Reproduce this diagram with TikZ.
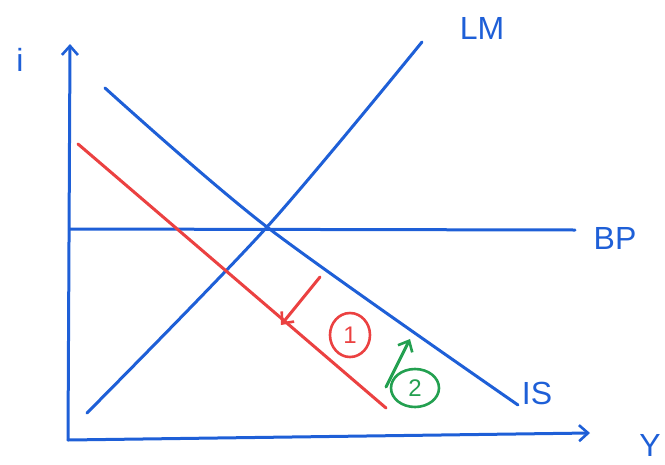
\documentclass[tikz,border=0pt]{standalone}
\usepackage{fontspec}
\setmainfont{Liberation Sans}
\usetikzlibrary{arrows.meta,shapes.geometric}
\definecolor{penblue}{RGB}{30,95,215}
\definecolor{penred}{RGB}{235,65,65}
\definecolor{pengreen}{RGB}{35,160,80}
\tikzset{
  pen/.style={line width=3pt, line cap=round, line join=round},
  curve/.style={pen, penblue},
  lab/.style={text=penblue, font=\fontsize{32}{32}\selectfont, inner sep=0pt},
  tip/.style={-{Straight Barb[length=9pt,width=16pt,line width=2.6pt]}},
  circnum/.style={ellipse, draw, pen, line width=2.6pt, inner sep=1pt, font=\fontsize{24}{24}\selectfont}
}
\begin{document}
\begin{tikzpicture}[x=1pt,y=-1pt]
\useasboundingbox (0,0) rectangle (665,464);
% axes
\coordinate (O) at (68,440);
\coordinate (ytop) at (70,44);
\coordinate (xend) at (590,433);
\draw[curve, tip] (O) -- (ytop);
\draw[curve, tip] (O) -- (xend);
\node[lab] (ilab) at (20,60) {i};
\node[lab] (Ylab) at (650,445) {Y};
% equilibrium point
\coordinate (E) at (267,227);
% LM
\coordinate (lm1) at (87,413);
\coordinate (lm2) at (422,42);
\draw[curve] plot[smooth] coordinates {(lm1) (E) (lm2)};
\node[lab] (LM) at (482,28) {LM};
% IS
\coordinate (is1) at (105,88);
\coordinate (is2) at (518,405);
\draw[curve] plot[smooth] coordinates {(is1) (E) (is2)};
\node[lab] (IS) at (537,393) {IS};
% BP
\coordinate (bp1) at (70,229);
\coordinate (bp2) at (575,230);
\draw[curve] (bp1) -- (bp2);
\node[lab] (BP) at (615,238) {BP};
% shifted IS (red)
\coordinate (r1) at (78,144);
\coordinate (r2) at (386,408);
\draw[pen, penred] (r1) -- (r2);
\coordinate (ra1) at (320,277);
\coordinate (ra2) at (281,325);
\draw[pen, penred, tip] (ra1) -- (ra2);
\node[circnum, penred, minimum width=40pt, minimum height=44pt] (c1) at (350,335) {1};
% green
\coordinate (ga1) at (386,387);
\coordinate (ga2) at (410,339);
\draw[pen, pengreen, tip] (ga1) -- (ga2);
\node[circnum, pengreen, minimum width=48pt, minimum height=38pt] (c2) at (415,388) {2};
\end{tikzpicture}
\end{document}
